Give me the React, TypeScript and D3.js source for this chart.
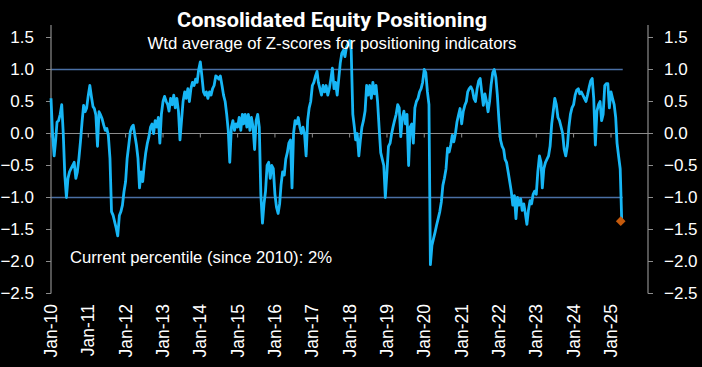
import React, { useRef, useEffect } from 'react';
import * as d3 from 'd3';

// semi-monthly readings (1st and 16th of each month), one array per year
const years = [2010, 2011, 2012, 2013, 2014, 2015, 2016, 2017, 2018, 2019, 2020, 2021, 2022, 2023, 2024, 2025];
const v2010 = [0.55, 0.0, -0.35, -0.1, 0.18, 0.2, 0.3, 0.45, 0.0, -0.65, -1.0, -0.7, -0.6, -0.55, -0.5, -0.45, -0.7, -0.6, -0.39, -0.13, 0.18, 0.44, 0.34, 0.4];
const v2011 = [0.6, 0.75, 0.57, 0.42, 0.39, 0.29, -0.2, 0.34, 0.29, 0.23, 0.13, 0.05, 0.08, -0.03, -0.39, -1.22, -1.28, -1.38, -1.48, -1.6, -1.28, -1.22, -1.12, -0.91];
const v2012 = [-0.75, -0.39, -0.18, 0.03, 0.1, 0.13, -0.03, -0.18, -0.39, -0.85, -0.6, -0.75, -0.5, -0.3, -0.15, -0.05, 0.1, 0.15, 0.0, 0.2, 0.1, 0.25, -0.15, 0.3];
const v2013 = [0.5, 0.58, 0.5, 0.45, 0.35, 0.55, 0.45, 0.6, 0.4, 0.55, 0.35, -0.1, 0.2, 0.5, 0.65, 0.55, 0.7, 0.5, 0.7, 0.8, 0.75, 0.85, 0.8, 1.0];
const v2014 = [1.12, 0.9, 0.65, 0.6, 0.65, 0.55, 0.65, 0.6, 0.7, 0.75, 0.9, 0.88, 0.85, 0.9, 0.75, 0.6, 0.5, 0.3, 0.05, -0.45, 0.1, 0.2, 0.05, 0.15];
const v2015 = [0.1, 0.25, 0.05, 0.3, 0.15, 0.3, 0.1, 0.3, 0.05, 0.25, 0.1, -0.25, 0.2, 0.3, 0.1, -0.95, -1.4, -1.1, -0.9, -0.5, -0.45, -0.7, -0.5, -0.55];
const v2016 = [-0.95, -1.15, -1.25, -1.1, -0.8, -0.6, -0.65, -0.4, -0.3, -0.15, -0.1, -0.85, 0.0, 0.2, 0.15, 0.25, 0.1, 0.0, 0.1, 0.0, -0.35, 0.2, 0.4, 0.5];
const v2017 = [0.75, 0.8, 0.9, 0.97, 0.8, 0.7, 0.6, 0.75, 0.65, 0.75, 0.6, 0.7, 0.85, 1.02, 0.7, 0.8, 0.6, 0.85, 1.1, 1.25, 1.3, 1.2, 1.35, 1.4];
const v2018 = [1.45, 1.3, 0.3, 0.1, -0.1, 0.0, -0.35, -0.1, 0.1, 0.2, 0.35, 0.75, 0.6, 0.75, 0.55, 0.8, 0.62, 0.75, 0.5, 0.1, -0.3, -0.4, -0.5, -1.0];
const v2019 = [-0.6, -0.2, -0.15, 0.0, 0.1, 0.2, 0.3, 0.45, 0.4, -0.05, 0.25, 0.35, 0.15, 0.3, -0.5, 0.1, 0.15, -0.15, 0.4, 0.5, 0.55, 0.65, 0.7, 0.8];
const v2020 = [1.0, 0.95, 0.65, 0.45, -2.05, -1.75, -1.64, -1.54, -1.43, -1.33, -1.22, -1.07, -0.81, -0.7, -0.55, -0.23, -0.29, -0.18, -0.03, -0.13, 0.0, 0.18, 0.29, 0.39];
const v2021 = [0.15, 0.34, 0.44, 0.5, 0.65, 0.7, 0.73, 0.68, 0.55, 0.5, 0.7, 0.82, 0.86, 0.65, 0.44, 0.62, 0.5, 0.34, 0.5, 0.76, 0.95, 1.0, 0.88, 0.6];
const v2022 = [0.2, -0.1, -0.2, -0.25, -0.4, -0.45, -0.6, -0.75, -0.9, -1.12, -0.97, -1.33, -1.0, -1.12, -1.02, -1.2, -1.1, -1.25, -1.42, -1.2, -1.05, -1.1, -0.95, -0.9];
const v2023 = [-0.95, -0.6, -0.35, -0.45, -0.85, -0.55, -0.45, -0.4, -0.35, -0.2, 0.15, 0.35, 0.55, 0.45, 0.25, 0.2, 0.1, 0.0, -0.25, -0.35, -0.2, 0.1, 0.3, 0.4];
const v2024 = [0.45, 0.6, 0.68, 0.7, 0.62, 0.65, 0.6, 0.55, 0.5, 0.6, 0.72, 0.82, 0.86, 0.55, -0.18, 0.35, 0.45, 0.5, 0.2, 0.3, 0.75, 0.78, 0.78, 0.4];
const v2025 = [0.65, 0.55, 0.45, 0.25, -0.15, -0.35, -0.55, -1.37];

const yearValues = [v2010, v2011, v2012, v2013, v2014, v2015, v2016, v2017, v2018, v2019, v2020, v2021, v2022, v2023, v2024, v2025];
const yTicks = [1.5, 1.0, 0.5, 0.0, -0.5, -1.0, -1.5, -2.0, -2.5];
const xLabels = ['Jan-10', 'Jan-11', 'Jan-12', 'Jan-13', 'Jan-14', 'Jan-15', 'Jan-16', 'Jan-17', 'Jan-18', 'Jan-19', 'Jan-20', 'Jan-21', 'Jan-22', 'Jan-23', 'Jan-24', 'Jan-25'];
const bands = [1.0, -1.0];

const title = 'Consolidated Equity Positioning';
const subtitle = 'Wtd average of Z-scores for positioning indicators';
const note = 'Current percentile (since 2010): 2%';

const W = 702;
const H = 367;

const App = () => {
  const ref = useRef(null);

  useEffect(() => {
    const svg = d3.select(ref.current);
    svg.selectAll('*').remove();

    const data = [];
    yearValues.forEach((vals, k) => {
      vals.forEach((v, i) => {
        data.push({ date: new Date(years[k], Math.floor(i / 2), i % 2 ? 16 : 1), value: v });
      });
    });

    const left = 51;
    const right = 648;
    const x = d3.scaleTime()
      .domain([new Date(2010, 0, 1), new Date(2025, 0, 1)])
      .range([left, 611]);
    const y = d3.scaleLinear().domain([-2.5, 1.5]).range([293.5, 37.5]);

    svg.append('rect').attr('width', W).attr('height', H).attr('fill', '#000');

    const font = "'Liberation Sans', Arial, sans-serif";
    const axisColor = '#8c8c8c';

    // +/-1 reference lines
    const lastX = x(data[data.length - 1].date);
    svg.selectAll('line.band')
      .data(bands)
      .enter().append('line')
      .attr('x1', left).attr('x2', lastX + 1)
      .attr('y1', d => y(d)).attr('y2', d => y(d))
      .attr('stroke', '#4a6fa5').attr('stroke-width', 1.5);

    // zero line as x axis with yearly ticks
    svg.append('line')
      .attr('x1', left).attr('x2', right)
      .attr('y1', y(0)).attr('y2', y(0))
      .attr('stroke', axisColor).attr('stroke-width', 1.2);
    const janDates = xLabels.map((_, i) => new Date(2010 + i, 0, 1));
    svg.selectAll('line.xt')
      .data(janDates)
      .enter().append('line')
      .attr('x1', d => x(d)).attr('x2', d => x(d))
      .attr('y1', y(0)).attr('y2', y(0) + 4)
      .attr('stroke', axisColor).attr('stroke-width', 1);

    // left and right value axes
    [left, right].forEach((ax, side) => {
      svg.append('line')
        .attr('x1', ax).attr('x2', ax)
        .attr('y1', 25).attr('y2', y(-2.5))
        .attr('stroke', axisColor).attr('stroke-width', 1.2);
      svg.selectAll('line.yt' + side)
        .data(yTicks)
        .enter().append('line')
        .attr('x1', ax).attr('x2', side === 0 ? ax - 5 : ax + 5)
        .attr('y1', d => y(d)).attr('y2', d => y(d))
        .attr('stroke', axisColor).attr('stroke-width', 1);
      svg.selectAll('text.yl' + side)
        .data(yTicks)
        .enter().append('text')
        .attr('x', side === 0 ? 34 : 664)
        .attr('y', d => y(d))
        .attr('dy', '0.35em')
        .attr('text-anchor', side === 0 ? 'end' : 'start')
        .attr('fill', '#fff')
        .style('font-family', font)
        .style('font-size', '17px')
        .text(d => d3.format('.1f')(d));
    });

    // rotated year labels
    svg.selectAll('text.xl')
      .data(xLabels)
      .enter().append('text')
      .attr('transform', (d, i) => `translate(${x(janDates[i]) + 6},304) rotate(-90)`)
      .attr('text-anchor', 'end')
      .attr('fill', '#fff')
      .style('font-family', font)
      .style('font-size', '17.5px')
      .text(d => d);

    // series
    const line = d3.line()
      .x(d => x(d.date))
      .y(d => y(d.value));
    svg.append('path')
      .datum(data)
      .attr('d', line)
      .attr('fill', 'none')
      .attr('stroke', '#17b6f5')
      .attr('stroke-width', 2.8)
      .attr('stroke-linejoin', 'round');

    // latest point marker
    const last = data[data.length - 1];
    svg.append('path')
      .attr('d', d3.symbol(d3.symbolDiamond2, 60)())
      .attr('transform', `translate(${x(last.date) - 1},${y(last.value)})`)
      .attr('fill', '#c55a0c');

    // titles
    svg.append('text')
      .attr('x', 332).attr('y', 27)
      .attr('text-anchor', 'middle')
      .attr('fill', '#fff')
      .style('font-family', "Roboto, 'Liberation Sans', sans-serif")
      .style('font-weight', 'bold')
      .style('font-size', '21px')
      .attr('textLength', 310)
      .attr('lengthAdjust', 'spacingAndGlyphs')
      .text(title);
    svg.append('text')
      .attr('x', 332).attr('y', 49)
      .attr('text-anchor', 'middle')
      .attr('fill', '#fff')
      .style('font-family', font)
      .style('font-size', '16.5px')
      .attr('textLength', 369)
      .attr('lengthAdjust', 'spacingAndGlyphs')
      .text(subtitle);

    svg.append('text')
      .attr('x', 70).attr('y', 263)
      .attr('fill', '#fff')
      .style('font-family', font)
      .style('font-size', '16.5px')
      .attr('textLength', 262)
      .attr('lengthAdjust', 'spacingAndGlyphs')
      .text(note);
  }, []);

  return <svg ref={ref} width={W} height={H} style={{ position: 'absolute', left: 0, top: 0, display: 'block' }} />;
};

export default App;
